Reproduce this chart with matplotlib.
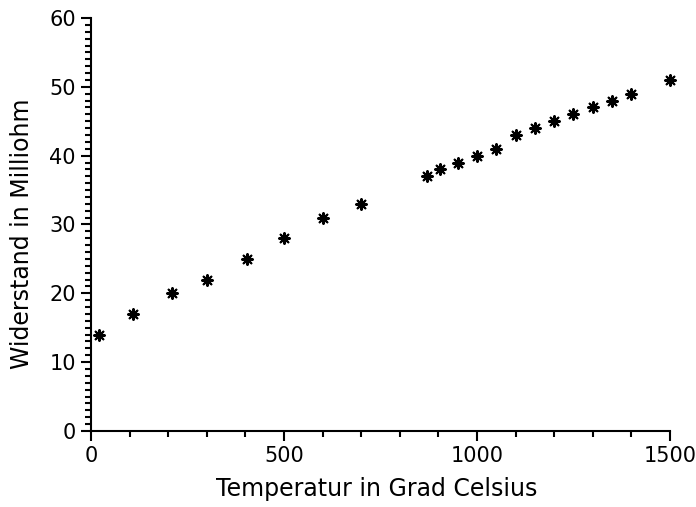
import numpy as np
import matplotlib
matplotlib.use("Agg")
import matplotlib.pyplot as plt
from matplotlib.ticker import MultipleLocator

# Messwerte
temperatur = [20, 110, 210, 300, 405, 500, 600, 700, 870, 905, 950, 1000,
              1050, 1100, 1150, 1200, 1250, 1300, 1350, 1400, 1500]
widerstand = [14, 17, 20, 22, 25, 28, 31, 33, 37, 38, 39, 40,
              41, 43, 44, 45, 46, 47, 48, 49, 51]

plt.rcParams["font.family"] = ["DejaVu Sans"]

fig = plt.figure(figsize=(6.96, 5.07), dpi=100)
ax = fig.add_axes([0.1307, 0.150, 0.8319, 0.8145])

# Sternchen-Marker (8 Strahlen)
ax.scatter(temperatur, widerstand, marker=(8, 2, 0), s=60, color="black",
           linewidths=1.5, clip_on=False)

ax.set_xlim(0, 1500)
ax.set_ylim(0, 60)
ax.xaxis.set_major_locator(MultipleLocator(500))
ax.xaxis.set_minor_locator(MultipleLocator(100))
ax.yaxis.set_major_locator(MultipleLocator(10))
ax.yaxis.set_minor_locator(MultipleLocator(1))

for s in ["top", "right"]:
    ax.spines[s].set_visible(False)
for s in ["left", "bottom"]:
    ax.spines[s].set_linewidth(1.5)

ax.tick_params(which="major", length=7, width=1.5, labelsize=15, direction="out", pad=4)
ax.tick_params(which="minor", length=4, width=1.5, direction="out")

ax.set_xlabel("Temperatur in Grad Celsius", fontsize=17)
ax.set_ylabel("Widerstand in Milliohm", fontsize=17)
ax.xaxis.set_label_coords(0.493, -0.112)
ax.yaxis.set_label_coords(-0.098, 0.477)

fig.savefig("out.png", dpi=100)
